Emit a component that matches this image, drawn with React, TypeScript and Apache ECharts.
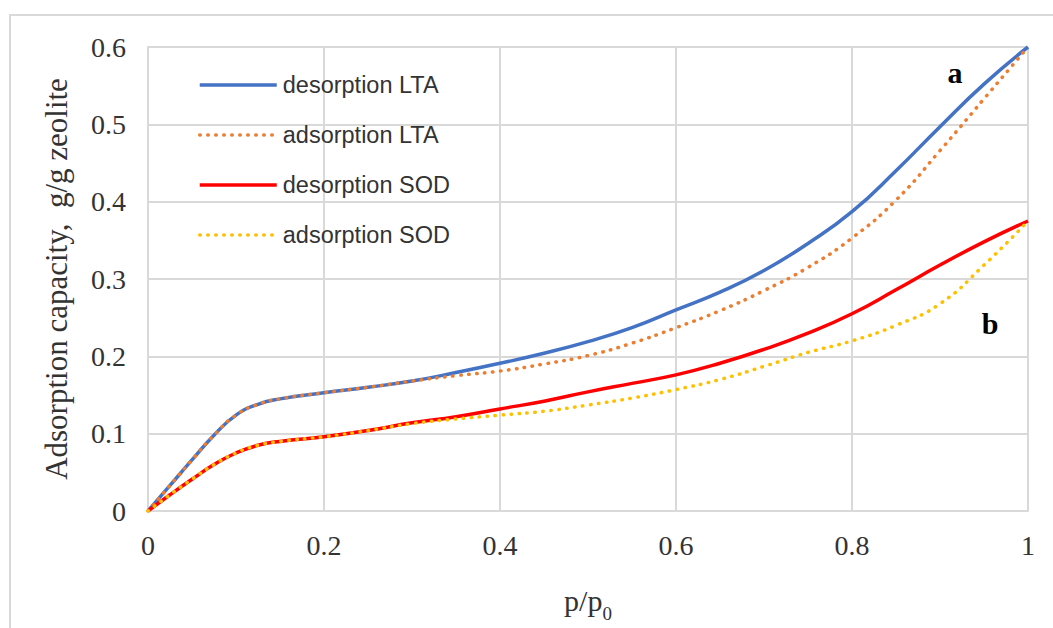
import React, { useEffect, useRef } from "react";
import * as echarts from "echarts";

const pressures = [0, 0.025, 0.05, 0.075, 0.1, 0.125, 0.15, 0.2, 0.25, 0.3, 0.35, 0.4, 0.45, 0.5, 0.55, 0.6, 0.65, 0.7, 0.75, 0.8, 0.85, 0.9, 0.95, 1];
const desorptionLTA = [0, 0.033, 0.066, 0.098, 0.124, 0.138, 0.145, 0.153, 0.16, 0.168, 0.179, 0.191, 0.204, 0.219, 0.237, 0.26, 0.283, 0.311, 0.346, 0.387, 0.44, 0.497, 0.552, 0.6];
const adsorptionLTA = [0, 0.033, 0.066, 0.098, 0.124, 0.138, 0.145, 0.153, 0.16, 0.168, 0.175, 0.181, 0.19, 0.201, 0.217, 0.237, 0.259, 0.285, 0.315, 0.353, 0.402, 0.466, 0.533, 0.6];
const desorptionSOD = [0, 0.021, 0.041, 0.06, 0.075, 0.085, 0.09, 0.096, 0.104, 0.114, 0.122, 0.132, 0.142, 0.154, 0.165, 0.176, 0.191, 0.209, 0.23, 0.255, 0.286, 0.318, 0.348, 0.375];
const adsorptionSOD = [0, 0.021, 0.041, 0.06, 0.075, 0.085, 0.09, 0.096, 0.104, 0.113, 0.119, 0.124, 0.129, 0.137, 0.146, 0.157, 0.17, 0.187, 0.205, 0.22, 0.24, 0.268, 0.318, 0.375];
const seriesNames = ["desorption LTA", "adsorption LTA", "desorption SOD", "adsorption SOD"];
const seriesColors = ["#4472C4", "#ED7D31", "#FF0000", "#FFC000"];
const annotations = [
  { label: "a", x: 0.917, y: 0.567 },
  { label: "b", x: 0.957, y: 0.243 },
];

const serif = "'Liberation Serif', 'Times New Roman', serif";

export default function App() {
  const ref = useRef<HTMLDivElement>(null);
  useEffect(() => {
    if (!ref.current) return;
    const chart = echarts.init(ref.current, undefined, { renderer: "svg" });
    const allData = [desorptionLTA, adsorptionLTA, desorptionSOD, adsorptionSOD];
    const dotted = [false, true, false, true];
    const series: any[] = allData.map((vals, i) => ({
      name: seriesNames[i],
      type: "line",
      data: pressures.map((p, j) => [p, vals[j]]),
      smooth: 0.5,
      symbol: "none",
      z: 2 + i,
      lineStyle: {
        color: seriesColors[i],
        width: 3.5,
        type: dotted[i] ? [0.5, 7.5] : "solid",
        cap: dotted[i] ? "round" : "butt",
      },
      itemStyle: { color: seriesColors[i] },
    }));
    series[0].markPoint = {
      symbol: "circle",
      symbolSize: 1,
      itemStyle: { color: "rgba(0,0,0,0)" },
      label: {
        show: true,
        position: "inside",
        color: "#000",
        fontFamily: serif,
        fontWeight: "bold",
        fontSize: 30,
        formatter: (p: any) => p.name,
      },
      data: annotations.map((a) => ({ name: a.label, coord: [a.x, a.y] })),
    };
    chart.setOption({
      animation: false,
      backgroundColor: "#fff",
      graphic: [
        {
          type: "rect",
          shape: { x: 10, y: 15, width: 1100, height: 700 },
          style: { fill: "none", stroke: "#d9d9d9", lineWidth: 2 },
          silent: true,
        },
      ],
      grid: { left: 148, right: 25, top: 47, bottom: 106, containLabel: false },
      legend: {
        orient: "vertical",
        left: 198,
        top: 73,
        padding: 0,
        itemWidth: 77,
        itemHeight: 24,
        itemGap: 26,
        data: seriesNames,
        itemStyle: { opacity: 0 },
        lineStyle: { width: 3.5 },
        textStyle: {
          fontFamily: "'Liberation Sans', Arial, sans-serif",
          fontSize: 23.5,
          lineHeight: 24,
          color: "#333",
          padding: [0, 0, 0, 1],
        },
      },
      xAxis: {
        type: "value",
        min: 0,
        max: 1,
        interval: 0.2,
        name: "{a|p/p}{b|0}",
        nameLocation: "middle",
        nameGap: 72,
        nameTextStyle: {
          rich: {
            a: { fontFamily: serif, fontSize: 30, color: "#333", lineHeight: 34 },
            b: { fontFamily: serif, fontSize: 19, color: "#333", lineHeight: 34, verticalAlign: "bottom", padding: [0, 0, -6, 0] },
          },
        },
        axisLine: { show: true, lineStyle: { color: "#d9d9d9", width: 2 } },
        axisTick: { show: false },
        axisLabel: {
          fontFamily: serif,
          fontSize: 28,
          color: "#333",
          margin: 20,
          formatter: (v: number) => String(Math.round(v * 10) / 10),
        },
        splitLine: { show: true, lineStyle: { color: "#d9d9d9", width: 2 } },
      },
      yAxis: {
        type: "value",
        min: 0,
        max: 0.6,
        interval: 0.1,
        name: "Adsorption capacity,  g/g zeolite",
        nameLocation: "middle",
        nameGap: 76,
        nameTextStyle: { fontFamily: serif, fontSize: 31, color: "#333" },
        axisLine: { show: true, lineStyle: { color: "#d9d9d9", width: 2 } },
        axisTick: { show: false },
        axisLabel: {
          fontFamily: serif,
          fontSize: 28,
          color: "#333",
          margin: 22,
          formatter: (v: number) => String(Math.round(v * 10) / 10),
        },
        splitLine: { show: true, lineStyle: { color: "#d9d9d9", width: 2 } },
      },
      series,
    });
    return () => chart.dispose();
  }, []);
  return (
    <div
      ref={ref}
      style={{ position: "absolute", left: 0, top: 0, width: 1053, height: 628 }}
    />
  );
}
